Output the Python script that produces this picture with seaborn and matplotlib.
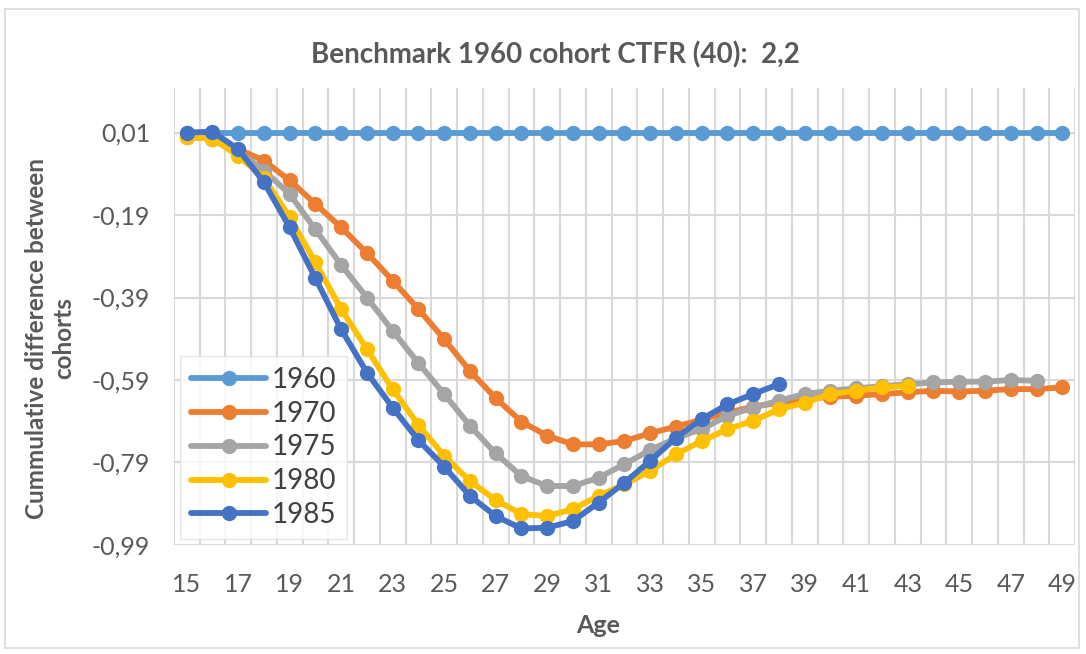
import numpy as np
import pandas as pd
import seaborn as sns
import matplotlib.pyplot as plt
from matplotlib.patches import Rectangle

# cohort curves, cumulative difference vs the 1960 cohort
ages_1960 = list(range(15, 50))
diff_1960 = [0.01] * len(ages_1960)

ages_1970 = list(range(15, 50))
diff_1970 = [0.00, -0.005, -0.03, -0.058, -0.106, -0.163, -0.22, -0.282, -0.349, -0.418,
             -0.491, -0.568, -0.634, -0.691, -0.725, -0.746, -0.746, -0.738, -0.719, -0.703,
             -0.686, -0.669, -0.655, -0.645, -0.636, -0.631, -0.628, -0.624, -0.620, -0.616,
             -0.618, -0.616, -0.612, -0.612, -0.608]

ages_1975 = list(range(15, 49))
diff_1975 = [0.00, -0.005, -0.035, -0.082, -0.139, -0.225, -0.311, -0.39, -0.471, -0.549,
             -0.624, -0.701, -0.768, -0.823, -0.847, -0.847, -0.827, -0.794, -0.76, -0.731,
             -0.709, -0.677, -0.657, -0.64, -0.624, -0.616, -0.61, -0.605, -0.60, -0.596,
             -0.594, -0.594, -0.590, -0.592]

ages_1980 = list(range(15, 44))
diff_1980 = [0.00, -0.005, -0.046, -0.10, -0.195, -0.305, -0.418, -0.515, -0.612, -0.699,
             -0.774, -0.835, -0.881, -0.915, -0.92, -0.903, -0.871, -0.843, -0.81, -0.77,
             -0.738, -0.709, -0.689, -0.661, -0.645, -0.624, -0.616, -0.608, -0.604]

ages_1985 = list(range(15, 39))
diff_1985 = [0.01, 0.012, -0.03, -0.11, -0.22, -0.343, -0.467, -0.572, -0.657, -0.736,
             -0.80, -0.871, -0.92, -0.95, -0.948, -0.932, -0.887, -0.839, -0.786, -0.73,
             -0.685, -0.649, -0.624, -0.60]

cohorts = ["1960", "1970", "1975", "1980", "1985"]
colors = ["#5B9BD5", "#ED7D31", "#A5A5A5", "#FFC000", "#4472C4"]

series = [(ages_1960, diff_1960), (ages_1970, diff_1970), (ages_1975, diff_1975),
          (ages_1980, diff_1980), (ages_1985, diff_1985)]
frames = []
for name, (a, d) in zip(cohorts, series):
    frames.append(pd.DataFrame({"Age": a, "diff": d, "cohort": name}))
df = pd.concat(frames, ignore_index=True)

sns.set_style("white")
plt.rcParams["font.family"] = ["Lato", "DejaVu Sans"]
txt = "#595959"

fig = plt.figure(figsize=(10.86, 6.54), dpi=100)
ax = fig.add_axes([0.160, 0.1667, 0.830, 0.6987])

sns.lineplot(data=df, x="Age", y="diff", hue="cohort", hue_order=cohorts,
             palette=colors, marker="o", markersize=11, markeredgewidth=0,
             linewidth=4.2, ax=ax, sort=False)

ax.set_xlim(14.5, 49.5)
ax.set_ylim(-0.99, 0.118)
ax.set_xticks(range(15, 50, 2))
ax.set_xticks(np.arange(14.5, 50, 1), minor=True)
yt = [0.01, -0.19, -0.39, -0.59, -0.79, -0.99]
ax.set_yticks(yt)
ax.set_yticklabels([f"{v:.2f}".replace(".", ",") for v in yt])
ax.grid(axis="y", which="major", color="#D9D9D9", linewidth=1.5)
ax.grid(axis="x", which="minor", color="#D9D9D9", linewidth=1.5)
ax.grid(axis="x", which="major", visible=False)
ax.tick_params(axis="both", which="both", length=0, labelsize=18, labelcolor=txt)
ax.tick_params(axis="x", pad=20)
ax.tick_params(axis="y", pad=17)
for s in ax.spines.values():
    s.set_visible(False)
ax.set_xlabel("")
ax.set_ylabel("")

sns.move_legend(ax, loc="upper left", bbox_to_anchor=(0.007, 0.414), title=None,
                fontsize=20, frameon=True, fancybox=False, edgecolor="#E0E0E0",
                handlelength=2.7, handletextpad=0.2, borderpad=0.4, labelspacing=0.28,
                borderaxespad=0, labelcolor="#404040")
ax.get_legend().get_frame().set_linewidth(1.0)

fig.text(0.511, 0.916, "Benchmark 1960 cohort CTFR (40):  2,2", ha="center", va="center",
         fontsize=20, color=txt, fontweight="bold")
fig.text(0.551, 0.044, "Age", ha="center", va="center", fontsize=18, color=txt,
         fontweight="bold")
fig.text(0.046, 0.483, "Cummulative difference between\ncohorts", ha="center", va="center",
         rotation=90, fontsize=17.5, color=txt, fontweight="bold", linespacing=1.2)

fig.patches.append(Rectangle((0.005, 0.009), 0.989, 0.978, transform=fig.transFigure,
                             fill=False, edgecolor="#D9D9D9", linewidth=1.2))

fig.savefig("out.png", dpi=100, facecolor="white")
